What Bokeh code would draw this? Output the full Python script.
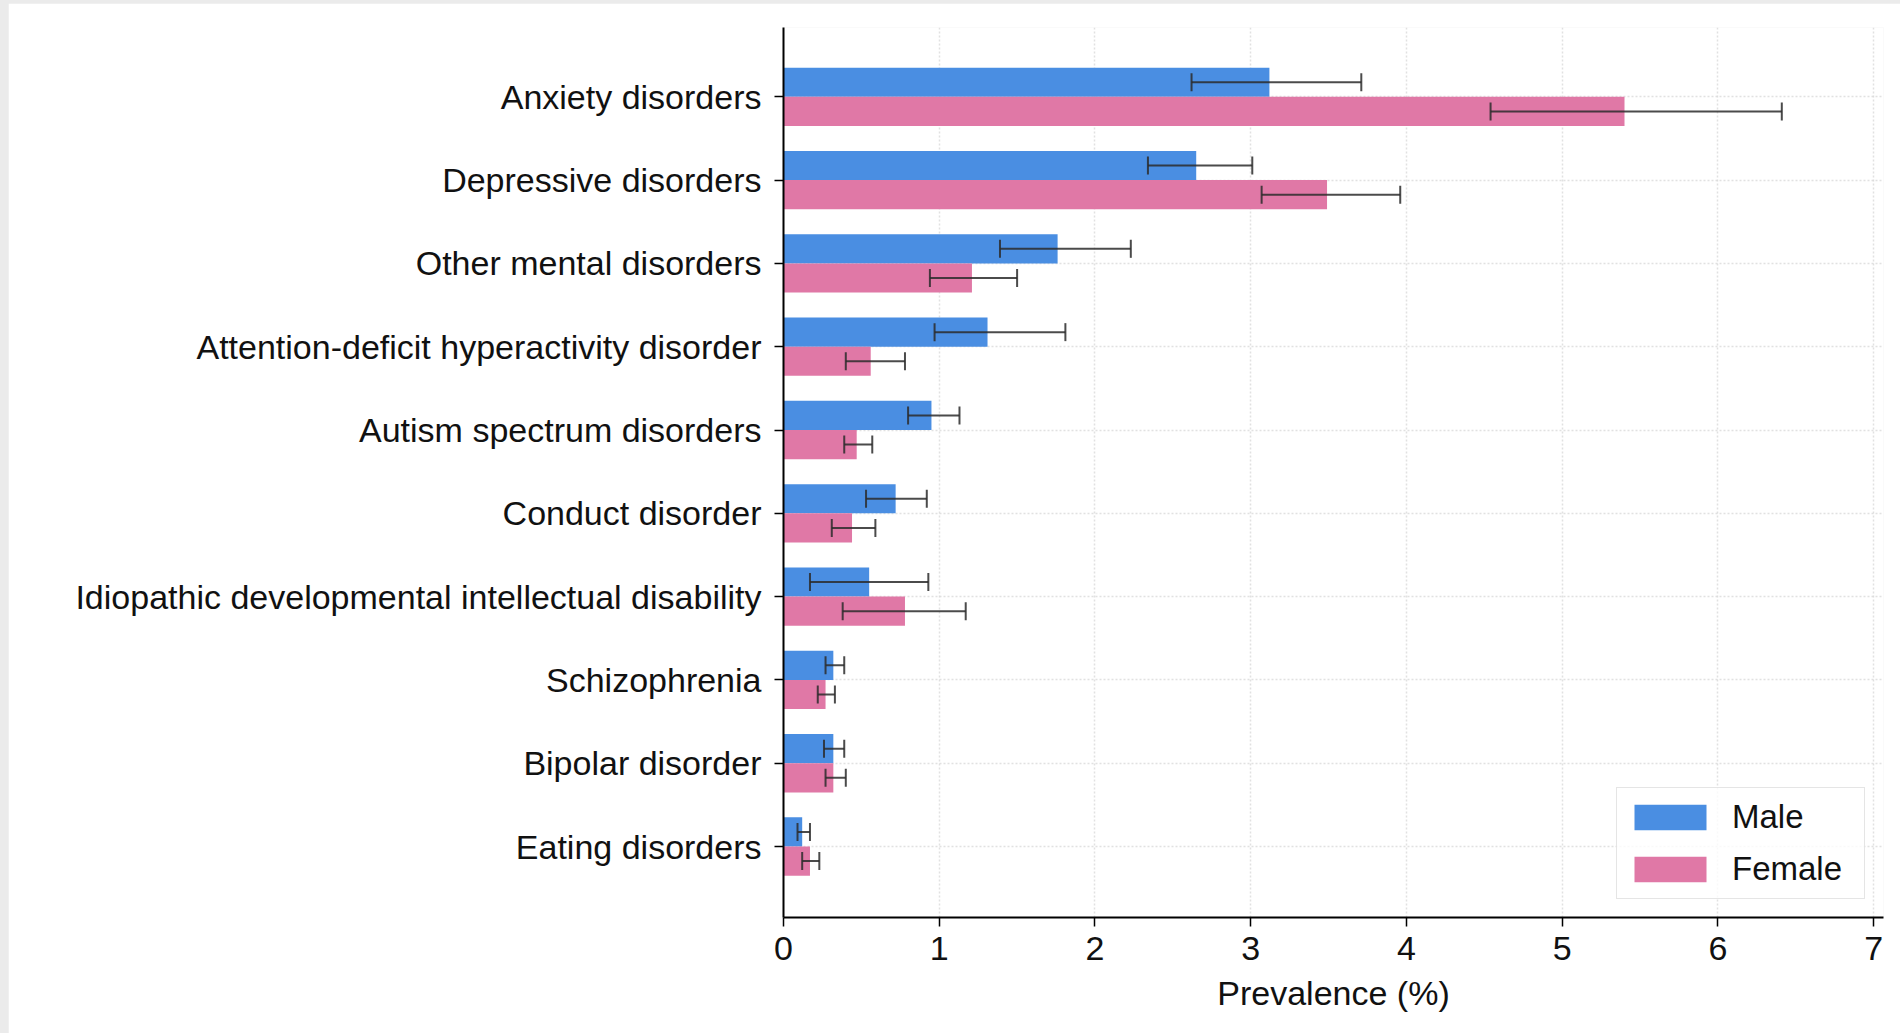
from bokeh.plotting import figure
from bokeh.models import (Range1d, FixedTicker, ColumnDataSource, Whisker, TeeHead,
                          Legend, LegendItem)
from bokeh.layouts import column
from bokeh.embed import file_html
from bokeh.resources import INLINE

# Prevalence (%) by disorder and sex, with 95% uncertainty intervals
disorders = [
    "Anxiety disorders",
    "Depressive disorders",
    "Other mental disorders",
    "Attention-deficit hyperactivity disorder",
    "Autism spectrum disorders",
    "Conduct disorder",
    "Idiopathic developmental intellectual disability",
    "Schizophrenia",
    "Bipolar disorder",
    "Eating disorders",
]
male = [3.12, 2.65, 1.76, 1.31, 0.95, 0.72, 0.55, 0.32, 0.32, 0.12]
male_lo = [2.62, 2.34, 1.39, 0.97, 0.80, 0.53, 0.17, 0.27, 0.26, 0.09]
male_hi = [3.71, 3.01, 2.23, 1.81, 1.13, 0.92, 0.93, 0.39, 0.39, 0.17]
female = [5.40, 3.49, 1.21, 0.56, 0.47, 0.44, 0.78, 0.27, 0.32, 0.17]
female_lo = [4.54, 3.07, 0.94, 0.40, 0.39, 0.31, 0.38, 0.22, 0.27, 0.12]
female_hi = [6.41, 3.96, 1.50, 0.78, 0.57, 0.59, 1.17, 0.33, 0.40, 0.23]
x_ticks = [0, 1, 2, 3, 4, 5, 6, 7]

MALE_COLOR = "#4a8ee2"
FEMALE_COLOR = "#e078a6"
BAR_H = 0.35
FONT = "Liberation Sans"
TEXT = "#111111"
ERR = "#2b2b2b"

n = len(disorders)
pos = [n - 1 - i for i in range(n)]  # first disorder at the top
male_src = ColumnDataSource(dict(y=[p + BAR_H / 2 for p in pos], v=male, lo=male_lo, hi=male_hi))
female_src = ColumnDataSource(dict(y=[p - BAR_H / 2 for p in pos], v=female, lo=female_lo, hi=female_hi))

p = figure(width=1892, height=1030, output_backend="svg", toolbar_location=None,
           x_range=Range1d(0, 7.063), y_range=Range1d(-0.852, n - 1 + 0.832),
           min_border_left=775, min_border_right=17, min_border_top=24, min_border_bottom=116)
p.margin = (3, 0, 0, 8)
p.outline_line_color = None
p.background_fill_color = "white"
p.border_fill_color = "white"

# grid
for g in (p.xgrid, p.ygrid):
    g.grid_line_color = "#d4d4d4"
    g.grid_line_dash = "2 2"
    g.grid_line_width = 1.5
    g.grid_line_alpha = 0.7
p.xaxis.ticker = FixedTicker(ticks=x_ticks)
p.yaxis.ticker = FixedTicker(ticks=pos)
p.yaxis.major_label_overrides = {float(pv): name for pv, name in zip(pos, disorders)}

# bars
r_m = p.hbar(y="y", right="v", left=0, height=BAR_H, source=male_src,
             fill_color=MALE_COLOR, line_color=None)
r_f = p.hbar(y="y", right="v", left=0, height=BAR_H, source=female_src,
             fill_color=FEMALE_COLOR, line_color=None)

# error bars, drawn over the bars
for src in (male_src, female_src):
    w = Whisker(source=src, base="y", lower="lo", upper="hi", dimension="width",
                level="overlay", line_color=ERR, line_width=2, line_alpha=0.85,
                lower_head=TeeHead(size=18, line_color=ERR, line_width=2, line_alpha=0.85),
                upper_head=TeeHead(size=18, line_color=ERR, line_width=2, line_alpha=0.85))
    p.add_layout(w)

# axes
for ax in (p.xaxis, p.yaxis):
    ax.axis_line_color = "black"
    ax.axis_line_width = 2
    ax.major_tick_line_color = "black"
    ax.major_tick_line_width = 1.5
    ax.major_tick_out = 9
    ax.major_tick_in = 0
    ax.minor_tick_line_color = None
    ax.major_label_text_font = FONT
    ax.major_label_text_color = TEXT
p.yaxis.major_label_text_font_size = "34px"
p.yaxis.major_label_standoff = 13
p.xaxis.major_label_text_font_size = "34px"
p.xaxis.major_label_standoff = 10
p.xaxis.axis_label = "Prevalence (%)"
p.xaxis.axis_label_text_font = FONT
p.xaxis.axis_label_text_font_size = "34px"
p.xaxis.axis_label_text_font_style = "normal"
p.xaxis.axis_label_text_color = TEXT
p.xaxis.axis_label_standoff = 11

# legend
legend = Legend(items=[LegendItem(label="Male", renderers=[r_m]),
                       LegendItem(label="Female", renderers=[r_f])],
                location="bottom_right", margin=18, padding=8, spacing=10,
                glyph_width=90, glyph_height=32, label_height=42, label_width=124,
                label_standoff=17, label_text_font=FONT, label_text_font_size="33px",
                label_text_color=TEXT, border_line_color="#cccccc", border_line_width=1.5,
                background_fill_color="white", background_fill_alpha=0.8)
p.add_layout(legend)

page = column(p, styles={"background-color": "#ebebeb"})
open("out.html", "w").write(file_html(page, INLINE))
